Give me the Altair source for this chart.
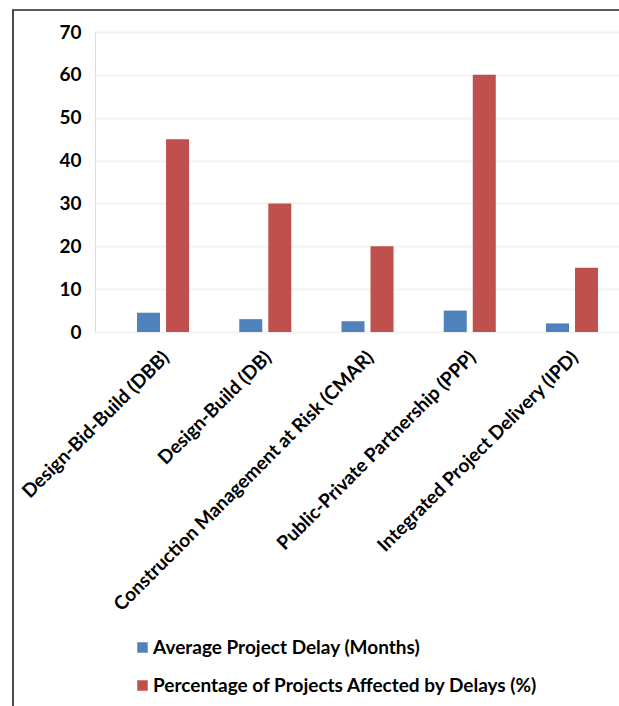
import altair as alt
import pandas as pd

categories = [
    "Design-Bid-Build (DBB)",
    "Design-Build (DB)",
    "Construction Management at Risk (CMAR)",
    "Public-Private Partnership (PPP)",
    "Integrated Project Delivery (IPD)",
]
series_names = [
    "Average Project Delay (Months)",
    "Percentage of Projects Affected by Delays (%)",
]
avg_delay = [4.5, 3, 2.5, 5, 2]
pct_affected = [45, 30, 20, 60, 15]
colors = ["#4F81BD", "#C0504D"]

rows = []
for c, a, p in zip(categories, avg_delay, pct_affected):
    rows.append({"Method": c, "Series": series_names[0], "Value": a})
    rows.append({"Method": c, "Series": series_names[1], "Value": p})
df = pd.DataFrame(rows)

FONT = "Lato"
FS = 19

bars = alt.Chart(df).mark_bar(stroke=None).encode(
    x=alt.X(
        "Method:N",
        sort=categories,
        title=None,
        scale=alt.Scale(paddingInner=0.491, paddingOuter=0.308, align=0.667),
        axis=alt.Axis(
            labelAngle=-45,
            labelAlign="right",
            labelBaseline="middle",
            labelFont=FONT,
            labelFontWeight="bold",
            labelFontSize=FS,
            labelColor="#000000",
            labelPadding=22,
            labelOffset=3,
            labelLimit=600,
            ticks=False,
            domain=False,
            grid=False,
        ),
    ),
    xOffset=alt.XOffset(
        "Series:N",
        sort=series_names,
        scale=alt.Scale(paddingInner=0.207, paddingOuter=0),
    ),
    y=alt.Y(
        "Value:Q",
        title=None,
        scale=alt.Scale(domain=[0, 70], nice=False),
        axis=alt.Axis(
            values=[0, 10, 20, 30, 40, 50, 60, 70],
            labelFont=FONT,
            labelFontWeight="bold",
            labelFontSize=FS,
            labelColor="#000000",
            labelPadding=14,
            ticks=False,
            domain=False,
            grid=True,
            gridColor="#f2f2f2",
            gridWidth=2,
        ),
    ),
    color=alt.Color(
        "Series:N",
        sort=series_names,
        scale=alt.Scale(domain=series_names, range=colors),
        legend=alt.Legend(
            title=None,
            orient="none",
            legendX=38,
            legendY=606,
            direction="vertical",
            symbolType="square",
            symbolSize=110,
            symbolStrokeWidth=0,
            labelFont=FONT,
            labelFontWeight="bold",
            labelFontSize=FS,
            labelColor="#000000",
            labelLimit=600,
            rowPadding=18,
            labelOffset=1,
        ),
    ),
)

frame_df = pd.DataFrame({"k": [0]})
top_line = alt.Chart(frame_df).mark_rule(color="#5a5a5a", strokeWidth=2).encode(
    x=alt.value(-83), x2=alt.value(530), y=alt.value(-22)
)
left_line = alt.Chart(frame_df).mark_rule(color="#4a4a4a", strokeWidth=2).encode(
    x=alt.value(-82), y=alt.value(-22), y2=alt.value(690)
)

chart = alt.layer(bars, top_line, left_line).properties(
    width=524,
    height=300,
    autosize=alt.AutoSizeParams(type="none"),
    padding={"left": 95, "top": 32, "right": 0, "bottom": 374},
).configure_view(stroke=None).configure(background="#ffffff")

chart.save("out.html", embed_options={"renderer": "svg", "actions": False})
